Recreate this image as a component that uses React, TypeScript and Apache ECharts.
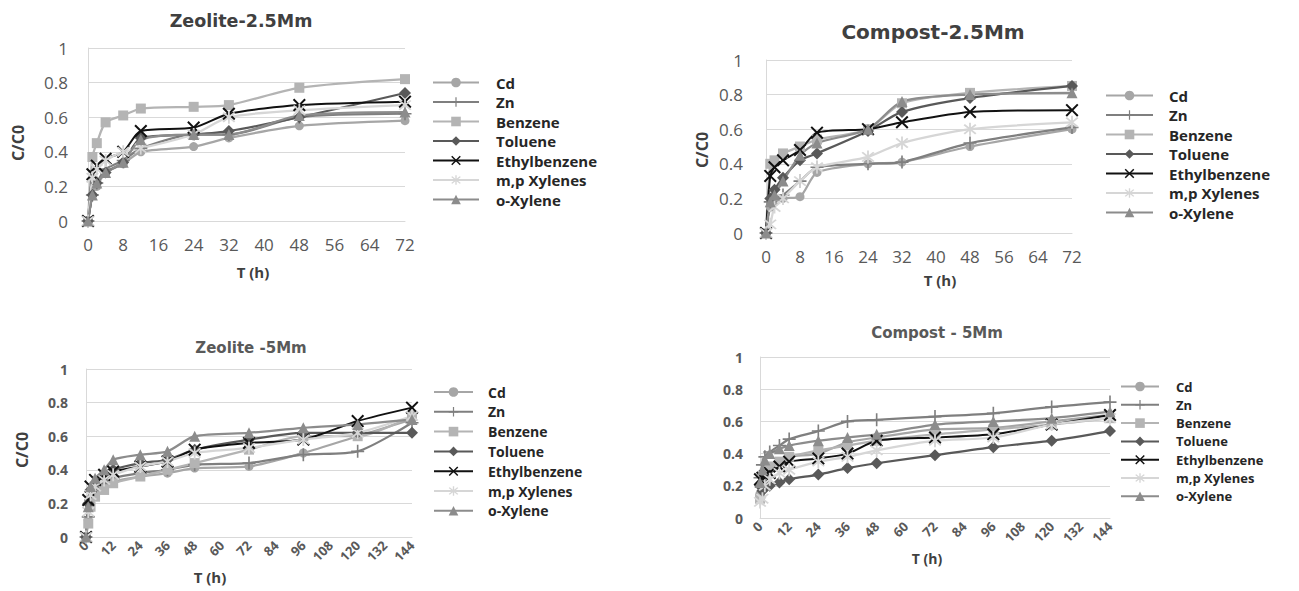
import React, { useEffect, useRef } from 'react';
import * as echarts from 'echarts';

// ---------- data ----------
const seriesNames = ['Cd', 'Zn', 'Benzene', 'Toluene', 'Ethylbenzene', 'm,p Xylenes', 'o-Xylene'];
const panelTitles = ['Zeolite-2.5Mm', 'Compost-2.5Mm', 'Zeolite -5Mm', 'Compost - 5Mm'];
const xName = 'T (h)';
const yName = 'C/C0';

const timeShort = [0, 1, 2, 4, 8, 12, 24, 32, 48, 72];
const timeLong = [0, 1, 2, 4, 8, 12, 24, 36, 48, 72, 96, 120, 144];

// Zeolite-2.5Mm
const zeo25Cd = [0, 0.15, 0.2, 0.28, 0.33, 0.4, 0.43, 0.48, 0.55, 0.58];
const zeo25Zn = [0, 0.15, 0.22, 0.3, 0.35, 0.42, 0.5, 0.5, 0.6, 0.62];
const zeo25Benzene = [0, 0.37, 0.45, 0.57, 0.61, 0.65, 0.66, 0.67, 0.77, 0.82];
const zeo25Toluene = [0, 0.15, 0.22, 0.28, 0.34, 0.48, 0.5, 0.52, 0.6, 0.74];
const zeo25Ethyl = [0, 0.27, 0.32, 0.36, 0.4, 0.52, 0.54, 0.62, 0.67, 0.69];
const zeo25MpXyl = [0, 0.25, 0.3, 0.35, 0.4, 0.42, 0.5, 0.6, 0.64, 0.67];
const zeo25OXyl = [0, 0.15, 0.22, 0.28, 0.34, 0.47, 0.5, 0.5, 0.61, 0.63];

// Compost-2.5Mm
const com25Cd = [0, 0.15, 0.18, 0.2, 0.21, 0.35, 0.4, 0.41, 0.5, 0.6];
const com25Zn = [0, 0.18, 0.2, 0.22, 0.3, 0.38, 0.4, 0.41, 0.52, 0.61];
const com25Benzene = [0, 0.4, 0.42, 0.46, 0.5, 0.54, 0.6, 0.75, 0.81, 0.85];
const com25Toluene = [0, 0.2, 0.25, 0.32, 0.42, 0.46, 0.59, 0.7, 0.78, 0.85];
const com25Ethyl = [0, 0.33, 0.38, 0.42, 0.48, 0.58, 0.6, 0.64, 0.7, 0.71];
const com25MpXyl = [0, 0.05, 0.15, 0.2, 0.3, 0.38, 0.44, 0.52, 0.6, 0.64];
const com25OXyl = [0, 0.18, 0.22, 0.3, 0.45, 0.52, 0.6, 0.76, 0.8, 0.81];

// Zeolite-5Mm
const zeo5Cd = [0, 0.1, 0.2, 0.26, 0.3, 0.33, 0.36, 0.38, 0.41, 0.42, 0.5, 0.6, 0.7];
const zeo5Zn = [0, 0.12, 0.22, 0.28, 0.32, 0.35, 0.38, 0.4, 0.43, 0.44, 0.49, 0.51, 0.68];
const zeo5Benzene = [0, 0.08, 0.18, 0.24, 0.28, 0.32, 0.36, 0.4, 0.44, 0.52, 0.6, 0.6, 0.72];
const zeo5Toluene = [0, 0.2, 0.28, 0.32, 0.36, 0.4, 0.44, 0.46, 0.52, 0.58, 0.62, 0.62, 0.62];
const zeo5Ethyl = [0, 0.22, 0.3, 0.34, 0.37, 0.39, 0.42, 0.45, 0.52, 0.56, 0.58, 0.69, 0.77];
const zeo5MpXyl = [0, 0.15, 0.25, 0.3, 0.34, 0.37, 0.42, 0.45, 0.5, 0.53, 0.58, 0.62, 0.72];
const zeo5OXyl = [0, 0.18, 0.3, 0.35, 0.4, 0.46, 0.49, 0.51, 0.6, 0.62, 0.65, 0.67, 0.7];

// Compost-5Mm
const com5Cd = [0.15, 0.2, 0.26, 0.3, 0.35, 0.38, 0.4, 0.47, 0.5, 0.55, 0.56, 0.6, 0.64];
const com5Zn = [0.25, 0.33, 0.38, 0.41, 0.45, 0.49, 0.54, 0.6, 0.61, 0.63, 0.65, 0.69, 0.72];
const com5Benzene = [0.12, 0.2, 0.28, 0.32, 0.35, 0.38, 0.42, 0.45, 0.48, 0.52, 0.55, 0.58, 0.62];
const com5Toluene = [0.2, 0.17, 0.19, 0.2, 0.22, 0.24, 0.27, 0.31, 0.34, 0.39, 0.44, 0.48, 0.54];
const com5Ethyl = [0.24, 0.25, 0.26, 0.28, 0.32, 0.35, 0.37, 0.4, 0.48, 0.5, 0.52, 0.58, 0.64];
const com5MpXyl = [0.1, 0.12, 0.2, 0.24, 0.28, 0.3, 0.35, 0.38, 0.42, 0.48, 0.5, 0.58, 0.62];
const com5OXyl = [0.22, 0.3, 0.36, 0.4, 0.43, 0.45, 0.48, 0.5, 0.52, 0.58, 0.6, 0.62, 0.66];

const panelTimes = [timeShort, timeShort, timeLong, timeLong];
const panelValues = [
  [zeo25Cd, zeo25Zn, zeo25Benzene, zeo25Toluene, zeo25Ethyl, zeo25MpXyl, zeo25OXyl],
  [com25Cd, com25Zn, com25Benzene, com25Toluene, com25Ethyl, com25MpXyl, com25OXyl],
  [zeo5Cd, zeo5Zn, zeo5Benzene, zeo5Toluene, zeo5Ethyl, zeo5MpXyl, zeo5OXyl],
  [com5Cd, com5Zn, com5Benzene, com5Toluene, com5Ethyl, com5MpXyl, com5OXyl],
];

// ---------- styles ----------
const FONT = '"Open Sans", "Liberation Sans", sans-serif';
const TITLE_FONT = '"DejaVu Sans", "Open Sans", sans-serif';
const PLUS = 'path://M-1,-8H1V-1H8V1H1V8H-1V1H-8V-1H-1Z';
const CROSS = 'path://M-6.4,-5L-5,-6.4L0,-1.4L5,-6.4L6.4,-5L1.4,0L6.4,5L5,6.4L0,1.4L-5,6.4L-6.4,5L-1.4,0Z';
const STAR = 'path://M-6.4,-5L-5,-6.4L0,-1.4L5,-6.4L6.4,-5L1.4,0L6.4,5L5,6.4L0,1.4L-5,6.4L-6.4,5L-1.4,0Z M-0.9,-8L0.9,-8L0.9,8L-0.9,8Z';
const seriesStyles = [
  { color: '#a6a6a6', symbol: 'circle', size: 9, width: 2.25 },
  { color: '#7f7f7f', symbol: PLUS, size: 13, width: 2.25 },
  { color: '#b4b4b4', symbol: 'rect', size: 10, width: 2.25 },
  { color: '#595959', symbol: 'diamond', size: 12, width: 2.25 },
  { color: '#111111', symbol: CROSS, size: 13, width: 2 },
  { color: '#d6d6d6', symbol: STAR, size: 13, width: 2.25 },
  { color: '#8c8c8c', symbol: 'triangle', size: 11, width: 2.25 },
];

const grids = [
  { left: 88, top: 48, width: 317, height: 173 },
  { left: 766, top: 60, width: 306, height: 173 },
  { left: 86, top: 369, width: 326, height: 168 },
  { left: 760, top: 357, width: 350, height: 161 },
];

const panelCfg = [
  { max: 72, interval: 8, rotate: 0, xFont: 17, xBold: 'normal', xMargin: 15, yFont: 17, yBold: 'normal', yMargin: 20,
    title: { x: 241, y: 21, size: 17.5, color: '#404040' }, xNamePos: [253, 272], xNameSize: 15, yNamePos: [18, 143], yNameSize: 16,
    legend: { left: 432, top: 75, w: 46, gap: 4.5, font: 15, pad: 12 } },
  { max: 72, interval: 8, rotate: 0, xFont: 17, xBold: 'normal', xMargin: 15, yFont: 17, yBold: 'normal', yMargin: 23,
    title: { x: 933, y: 32, size: 20, color: '#404040' }, xNamePos: [940, 280], xNameSize: 15, yNamePos: [702, 150], yNameSize: 16,
    legend: { left: 1105, top: 88, w: 47, gap: 4.5, font: 15, pad: 11 } },
  { max: 144, interval: 12, rotate: 45, xFont: 13, xBold: 'bold', xMargin: 6, yFont: 14, yBold: 'bold', yMargin: 18,
    title: { x: 251, y: 348, size: 15, color: '#595959' }, xNamePos: [210, 577], xNameSize: 15, yNamePos: [22, 450], yNameSize: 16,
    legend: { left: 433, top: 385, w: 39, gap: 5.8, font: 14, pad: 10 } },
  { max: 144, interval: 12, rotate: 45, xFont: 13, xBold: 'bold', xMargin: 6, yFont: 14, yBold: 'bold', yMargin: 17,
    title: { x: 937, y: 333, size: 15, color: '#595959' }, xNamePos: [927, 558], xNameSize: 14, yNamePos: null, yNameSize: 16,
    legend: { left: 1120, top: 380, w: 38, gap: 5.3, font: 13, pad: 12 } },
];

export default function App() {
  const ref = useRef<HTMLDivElement>(null);
  useEffect(() => {
    document.body.style.margin = '0';
    if (!ref.current) return;
    const chart = echarts.init(ref.current, undefined, { renderer: 'svg' });

    const series: any[] = [];
    panelValues.forEach((vals, p) => {
      vals.forEach((arr, s) => {
        const st = seriesStyles[s];
        series.push({
          type: 'line',
          name: seriesNames[s],
          xAxisIndex: p,
          yAxisIndex: p,
          data: arr.map((v, i) => [panelTimes[p][i], v]),
          smooth: 0.25,
          symbol: st.symbol,
          symbolSize: st.size,
          showAllSymbol: true,
          lineStyle: { color: st.color, width: st.width },
          itemStyle: { color: st.color, borderColor: st.color, borderWidth: 0 },
          emphasis: { disabled: true },
        });
      });
    });

    const graphic: any[] = [];
    panelCfg.forEach((c, p) => {
      graphic.push({
        type: 'text', x: c.title.x, y: c.title.y,
        style: { text: panelTitles[p], fontFamily: TITLE_FONT, fontSize: c.title.size, fontWeight: 'bold', fill: c.title.color, align: 'center', verticalAlign: 'middle' },
      });
      graphic.push({
        type: 'text', x: c.xNamePos[0], y: c.xNamePos[1],
        style: { text: xName, fontFamily: FONT, fontSize: c.xNameSize, fontWeight: 'bold', fill: '#404040', align: 'center', verticalAlign: 'middle' },
      });
      if (c.yNamePos) {
        graphic.push({
          type: 'text', x: c.yNamePos[0], y: c.yNamePos[1], rotation: Math.PI / 2,
          style: { text: yName, fontFamily: FONT, fontSize: c.yNameSize, fontWeight: 'bold', fill: '#404040', align: 'center', verticalAlign: 'middle' },
        });
      }
    });

    chart.setOption({
      animation: false,
      backgroundColor: '#ffffff',
      grid: grids.map((g) => ({ ...g, containLabel: false })),
      xAxis: panelCfg.map((c, p) => ({
        type: 'value', gridIndex: p, min: 0, max: c.max, interval: c.interval,
        splitLine: { show: false },
        axisLine: { show: true, lineStyle: { color: '#d9d9d9', width: 1 } },
        axisTick: { show: false },
        axisLabel: { fontFamily: FONT, fontSize: c.xFont, fontWeight: c.xBold, color: '#595959', margin: c.xMargin, rotate: c.rotate, showMaxLabel: true },
      })),
      yAxis: panelCfg.map((c, p) => ({
        type: 'value', gridIndex: p, min: 0, max: 1, interval: 0.2,
        splitLine: { show: true, lineStyle: { color: '#d9d9d9', width: 1 } },
        axisLine: { show: true, lineStyle: { color: '#d9d9d9', width: 1 } },
        axisTick: { show: false },
        axisLabel: { fontFamily: FONT, fontSize: c.yFont, fontWeight: c.yBold, color: '#595959', margin: c.yMargin },
      })),
      legend: panelCfg.map((c) => ({
        orient: 'vertical', left: c.legend.left, top: c.legend.top, padding: 0,
        itemWidth: c.legend.w, itemHeight: 12, itemGap: c.legend.gap,
        selectedMode: false,
        data: seriesNames,
        textStyle: { fontFamily: FONT, fontSize: c.legend.font, fontWeight: 'bold', color: '#262626', padding: [0, 0, 0, c.legend.pad] },
      })),
      graphic,
      series,
    });
    return () => chart.dispose();
  }, []);
  return <div ref={ref} style={{ width: 1299, height: 591 }} />;
}
